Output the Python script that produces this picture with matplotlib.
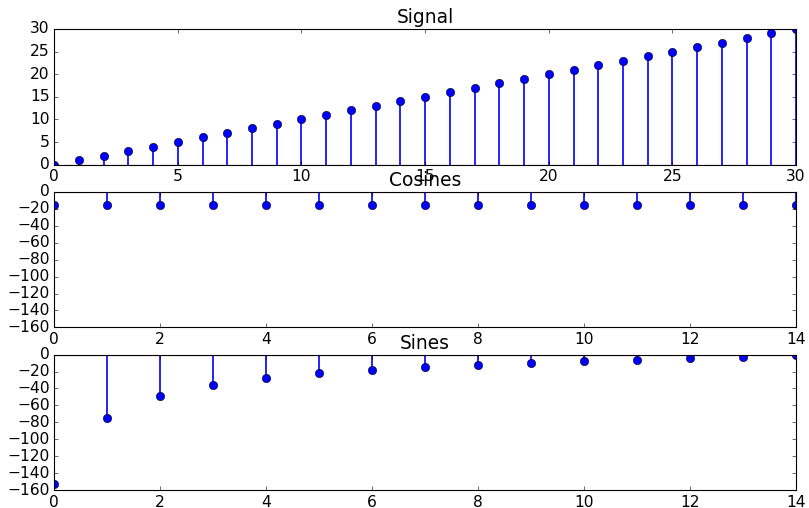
import matplotlib
matplotlib.use("Agg")
import matplotlib.pyplot as plt

plt.style.use("classic")
plt.rcParams["font.size"] = 14

# signal samples
signal_x = list(range(31))
signal_y = [0, 1, 2, 3, 4, 5, 6, 7, 8, 9, 10, 11, 12, 13, 14, 15, 16, 17, 18, 19,
            20, 21, 22, 23, 24, 25, 26, 27, 28, 29, 30]

# spectrum components
freq_x = list(range(15))
cosines = [-15.5, -15.5, -15.5, -15.5, -15.5, -15.5, -15.5, -15.5,
           -15.5, -15.5, -15.5, -15.5, -15.5, -15.5, -15.5]
sines = [-152.4, -75.4, -49.4, -36.1, -27.9, -22.2, -18.0, -14.7,
         -12.0, -9.8, -7.6, -5.9, -4.0, -2.4, -0.8]

fig = plt.figure(figsize=(809 / 80, 508 / 80), dpi=80)
ax1 = fig.add_subplot(3, 1, 1)
ax2 = fig.add_subplot(3, 1, 2)
ax3 = fig.add_subplot(3, 1, 3, sharey=ax2)
fig.subplots_adjust(left=0.067, right=0.984, top=0.943, bottom=0.035, hspace=0.2)

for ax, x, y, title in [(ax1, signal_x, signal_y, "Signal"),
                        (ax2, freq_x, cosines, "Cosines"),
                        (ax3, freq_x, sines, "Sines")]:
    markers, stems, base = ax.stem(x, y, linefmt="b-", markerfmt="bo", basefmt="r-")
    markers.set_markeredgecolor("k")
    markers.set_markeredgewidth(0.5)
    markers.set_markersize(7.5)
    stems.set_linewidth(1.5)
    ax.set_title(title)

ax1.set_xlim(0, 30)
ax1.set_ylim(0, 30)
ax2.set_xlim(0, 14)
ax3.set_xlim(0, 14)
ax3.set_ylim(-160, 0)

fig.savefig("out.png", dpi=80)
